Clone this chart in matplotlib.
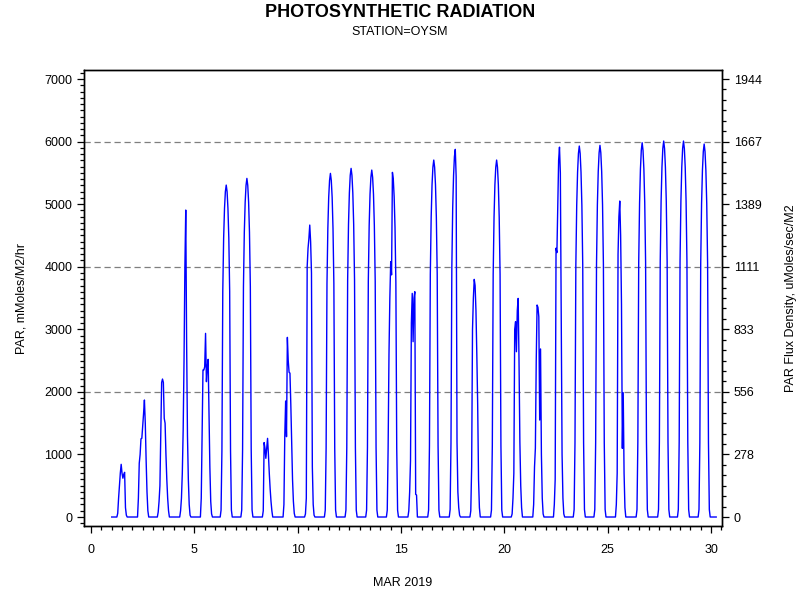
import numpy as np
import matplotlib
matplotlib.use("Agg")
import matplotlib.pyplot as plt
from matplotlib.ticker import MultipleLocator, FixedLocator

plt.rcParams['font.family'] = ['Liberation Sans', 'DejaVu Sans']

# March 2019, hourly PAR (mMoles/M2/hr)
days = list(range(1, 30))
first_hour = [7, 7, 6, 8, 8, 7, 7, 8, 8, 9, 8, 8, 8, 8, 9,
              8, 9, 9, 9, 9, 10, 10, 9, 9, 10, 10, 11, 10, 10]
par_day = [
    [60, 300, 500, 700, 842, 700, 620, 680, 714, 150, 30],
    [300, 860, 1000, 1250, 1258, 1450, 1650, 1870, 1500, 900, 400, 100],
    [80, 250, 500, 1300, 2150, 2205, 2150, 1577, 1500, 1000, 600, 300, 100],
    [100, 300, 700, 1390, 2500, 4000, 4906, 2800, 1300, 600, 200, 30],
    [300, 1300, 2350, 2350, 2400, 2935, 2163, 2400, 2520, 1700, 800, 250, 50],
    [110, 1060, 3610, 4460, 4930, 5200, 5305, 5200, 4930, 4460, 3610, 1060, 110],
    [110, 1080, 3680, 4550, 5030, 5300, 5412, 5300, 5030, 4550, 3680, 1080, 110],
    [100, 1190, 1100, 938, 1100, 1257, 1000, 700, 450, 250, 100],
    [200, 1300, 1854, 1284, 2871, 2500, 2312, 2300, 1800, 1200, 600, 250, 60],
    [50, 300, 4000, 4293, 4450, 4666, 4400, 3900, 800, 200, 30],
    [110, 1100, 3730, 4610, 5110, 5380, 5492, 5380, 5110, 4610, 3730, 1100, 110],
    [110, 1110, 3790, 4680, 5180, 5460, 5572, 5460, 5180, 4680, 3790, 1110, 110],
    [110, 1110, 3770, 4660, 5160, 5430, 5545, 5430, 5160, 4660, 3770, 1110, 110],
    [110, 1100, 2600, 3500, 4080, 3870, 5508, 5400, 5120, 4630, 3750, 1100, 110],
    [100, 400, 900, 3100, 3574, 2802, 3500, 3601, 362, 352],
    [110, 1140, 3880, 4790, 5310, 5590, 5705, 5590, 5310, 4790, 3880, 1140, 110],
    [120, 1180, 4000, 4940, 5460, 5760, 5876, 5439, 1200, 400, 150, 30],
    [100, 800, 3000, 3500, 3798, 3700, 3300, 2600, 1800, 600, 150],
    [110, 1140, 3880, 4790, 5310, 5590, 5705, 5590, 5310, 4790, 3880, 1140, 110],
    [50, 300, 700, 3000, 3122, 2642, 3300, 3494, 2500, 1200, 500, 150],
    [200, 800, 1100, 2500, 3388, 3350, 3200, 1550, 2686, 1000, 300, 50],
    [200, 600, 4296, 4226, 5000, 5700, 5911, 5500, 3265, 1000, 300, 50],
    [120, 1190, 4030, 4980, 5510, 5810, 5929, 5810, 5510, 4980, 4030, 1190, 120],
    [120, 1190, 4040, 4990, 5520, 5820, 5940, 5820, 5520, 4990, 4040, 1190, 120],
    [200, 700, 4200, 4800, 5050, 4500, 3400, 1097, 1987, 700, 150],
    [120, 1200, 4070, 5020, 5560, 5860, 5982, 5860, 5560, 5020, 4070, 1200, 120],
    [120, 1200, 4090, 5050, 5590, 5890, 6009, 5890, 5590, 5050, 4090, 1200, 120],
    [120, 1200, 4090, 5050, 5590, 5890, 6009, 5890, 5590, 5050, 4090, 1200, 120],
    [120, 1190, 4050, 5010, 5540, 5840, 5961, 5840, 5540, 5010, 4050, 1190, 120],
]
last_hour_day30 = 6

left_ticks = [0, 1000, 2000, 3000, 4000, 5000, 6000, 7000]
right_labels = ['0', '278', '556', '833', '1111', '1389', '1667', '1944']
grid_levels = [2000, 4000, 6000]

# build hourly series
t = []
v = []
for d, h0, vals in zip(days, first_hour, par_day):
    hourly = np.zeros(24)
    hourly[h0:h0 + len(vals)] = vals
    for h in range(24):
        t.append(d + h / 24.0)
        v.append(hourly[h])
for h in range(last_hour_day30 + 1):
    t.append(30 + h / 24.0)
    v.append(0)

fig = plt.figure(figsize=(8, 6), dpi=100)
ax = fig.add_axes([0.105, 0.1233, 0.7975, 0.76])

for g in grid_levels:
    ax.axhline(g, color='#7f7f7f', lw=0.9, ls=(0, (5, 3)), zorder=1)

ax.plot(t, v, color='#0000ff', lw=1.0, zorder=3)

ax.set_xlim(-0.34, 30.53)
ax.set_ylim(-144, 7144)
ax.xaxis.set_major_locator(MultipleLocator(5))
ax.xaxis.set_minor_locator(MultipleLocator(0.5))
ax.yaxis.set_major_locator(FixedLocator(left_ticks))
ax.yaxis.set_minor_locator(MultipleLocator(100))
ax.tick_params(which='major', length=5, width=0.9, labelsize=9, direction='out')
ax.tick_params(which='minor', length=3, width=0.9, direction='out')
ax.tick_params(axis='x', pad=8)
ax.set_xlabel('MAR 2019', fontsize=9, labelpad=15)
ax.set_ylabel('PAR, mMoles/M2/hr', fontsize=9, labelpad=12)

ax2 = ax.twinx()
ax2.set_ylim(ax.get_ylim())
ax2.yaxis.set_major_locator(FixedLocator(left_ticks))
ax2.set_yticklabels(right_labels)
ax2.yaxis.set_minor_locator(MultipleLocator(1000 / 6.0))
ax2.tick_params(which='major', length=5, width=0.9, labelsize=9, direction='out')
ax2.tick_params(which='minor', length=3, width=0.9, direction='out')
ax2.set_ylabel('PAR Flux Density, uMoles/sec/M2', fontsize=9, labelpad=17)

for a in (ax, ax2):
    for s in a.spines.values():
        s.set_linewidth(1.0)

fig.text(0.5, 0.979, 'PHOTOSYNTHETIC RADIATION', ha='center', va='center',
         fontsize=13, fontweight='bold')
fig.text(0.5, 0.946, 'STATION=OYSM', ha='center', va='center', fontsize=9)

fig.savefig('out.png', dpi=100)
